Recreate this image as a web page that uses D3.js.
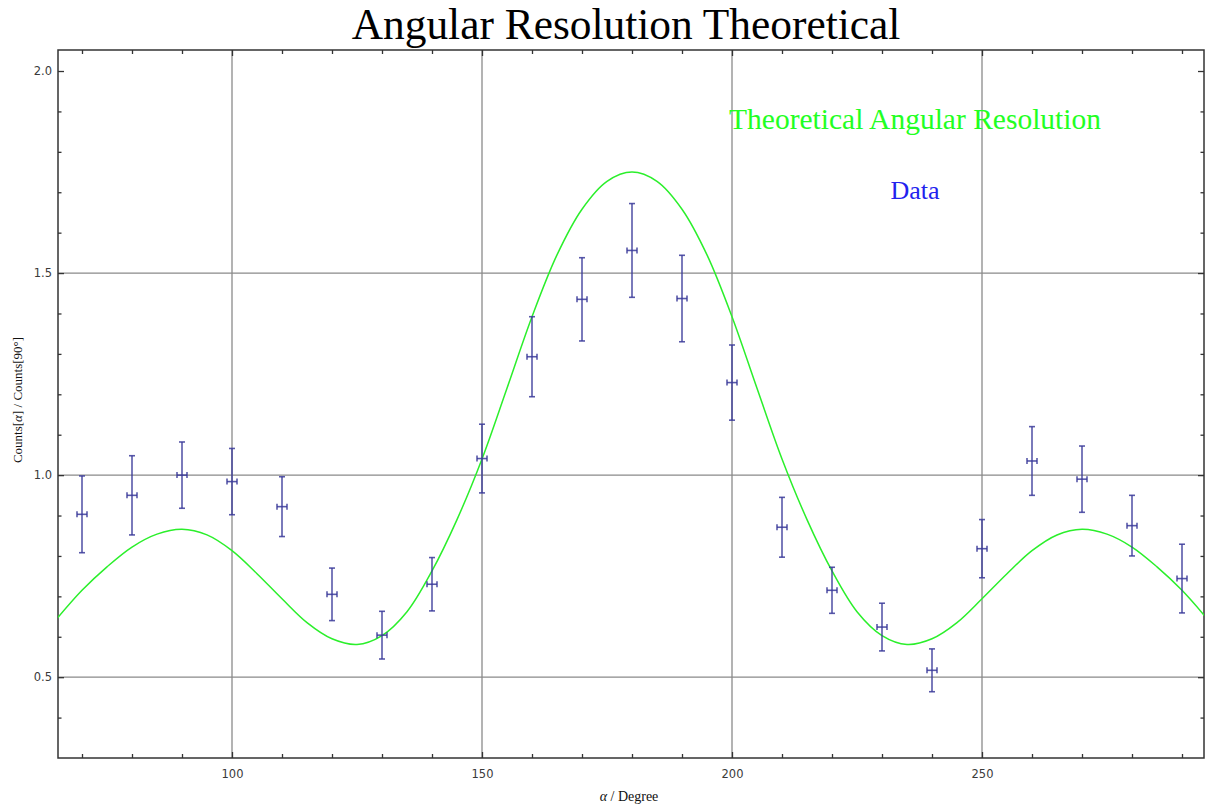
<!DOCTYPE html>
<html>
<head>
<meta charset="utf-8">
<script src="https://cdn.jsdelivr.net/npm/d3@7"></script>
<style>
  body { margin: 0; background: #fff; }
  svg { display: block; }
</style>
</head>
<body>
<div id="chart"></div>
<script>
// measured points (angle in degrees, ratio, symmetric error)
const angles = [70, 80, 90, 100, 110, 120, 130, 140, 150, 160, 170, 180, 190, 200, 210, 220, 230, 240, 250, 260, 270, 280, 290];
const ratios = [0.903, 0.950, 1.000, 0.984, 0.922, 0.705, 0.604, 0.730, 1.041, 1.293, 1.435, 1.556, 1.437, 1.229, 0.871, 0.715, 0.624, 0.517, 0.818, 1.035, 0.990, 0.875, 0.744];
const yErr = [0.095, 0.098, 0.082, 0.082, 0.074, 0.065, 0.059, 0.066, 0.085, 0.099, 0.103, 0.116, 0.107, 0.093, 0.074, 0.057, 0.059, 0.053, 0.072, 0.085, 0.082, 0.075, 0.085];
const xErr = 1;

// theoretical curve every 5 degrees
const theoryAngles = [65, 70, 75, 80, 85, 90, 95, 100, 105, 110, 115, 120, 125, 130, 135, 140, 145, 150, 155, 160, 165, 170, 175, 180,
  185, 190, 195, 200, 205, 210, 215, 220, 225, 230, 235, 240, 245, 250, 255, 260, 265, 270, 275, 280, 285, 290, 295];
const theoryValues = [0.645, 0.715, 0.773, 0.822, 0.854, 0.866, 0.852, 0.813, 0.756, 0.694, 0.635, 0.595, 0.581, 0.603, 0.662, 0.763, 0.890, 1.040, 1.215, 1.392, 1.545, 1.658, 1.727, 1.750,
  1.727, 1.658, 1.545, 1.392, 1.215, 1.040, 0.890, 0.763, 0.662, 0.603, 0.581, 0.595, 0.635, 0.694, 0.756, 0.813, 0.852, 0.866, 0.854, 0.822, 0.773, 0.715, 0.645];

const xMajor = [100, 150, 200, 250];
const xMinor = [70, 80, 90, 110, 120, 130, 140, 160, 170, 180, 190, 210, 220, 230, 240, 260, 270, 280, 290];
const yMajor = [0.5, 1.0, 1.5, 2.0];
const yMinor = [0.4, 0.6, 0.7, 0.8, 0.9, 1.1, 1.2, 1.3, 1.4, 1.6, 1.7, 1.8, 1.9];
const yGrid = [0.5, 1.0, 1.5];

const width = 1211, height = 807;
const plotLeft = 58, plotRight = 1204, plotTop = 50, plotBottom = 758;

const svg = d3.select("#chart").append("svg")
    .attr("width", width)
    .attr("height", height);

const x = d3.scaleLinear().domain([65.2, 294.4]).range([plotLeft, plotRight]);
const y = d3.scaleLinear().domain([0.3, 2.052]).range([plotBottom, plotTop]);

svg.append("clipPath").attr("id", "clip")
  .append("rect")
    .attr("x", plotLeft).attr("y", plotTop)
    .attr("width", plotRight - plotLeft).attr("height", plotBottom - plotTop);

// grid lines
svg.append("g").selectAll("line")
  .data(xMajor)
  .enter().append("line")
    .attr("x1", d => x(d)).attr("x2", d => x(d))
    .attr("y1", plotTop).attr("y2", plotBottom)
    .attr("stroke", "#8a8a8a").attr("stroke-width", 1.3);

svg.append("g").selectAll("line")
  .data(yGrid)
  .enter().append("line")
    .attr("x1", plotLeft).attr("x2", plotRight)
    .attr("y1", d => y(d)).attr("y2", d => y(d))
    .attr("stroke", "#8a8a8a").attr("stroke-width", 1.3);

// axes with inward ticks on all four sides
function styleAxis(g) {
  g.select(".domain").remove();
  g.selectAll(".tick line").attr("stroke", "#333").attr("stroke-width", 1.3);
  g.selectAll(".tick text")
    .attr("fill", "#3a3a3a")
    .style("font-family", "DejaVu Sans, sans-serif")
    .style("font-size", "11.5px");
}

svg.append("g").attr("transform", `translate(0,${plotBottom})`)
  .call(d3.axisBottom(x).tickValues(xMajor).tickSize(-6).tickPadding(12).tickFormat(d3.format("d")))
  .call(styleAxis);
svg.append("g").attr("transform", `translate(0,${plotBottom})`)
  .call(d3.axisBottom(x).tickValues(xMinor).tickSize(-4).tickFormat(""))
  .call(styleAxis);
svg.append("g").attr("transform", `translate(0,${plotTop})`)
  .call(d3.axisTop(x).tickValues(xMajor).tickSize(-6).tickFormat(""))
  .call(styleAxis);
svg.append("g").attr("transform", `translate(0,${plotTop})`)
  .call(d3.axisTop(x).tickValues(xMinor).tickSize(-4).tickFormat(""))
  .call(styleAxis);

svg.append("g").attr("transform", `translate(${plotLeft},0)`)
  .call(d3.axisLeft(y).tickValues(yMajor).tickSize(-6).tickPadding(6).tickFormat(d3.format(".1f")))
  .call(styleAxis);
svg.append("g").attr("transform", `translate(${plotLeft},0)`)
  .call(d3.axisLeft(y).tickValues(yMinor).tickSize(-3.5).tickFormat(""))
  .call(styleAxis);
svg.append("g").attr("transform", `translate(${plotRight},0)`)
  .call(d3.axisRight(y).tickValues(yMajor).tickSize(-6).tickFormat(""))
  .call(styleAxis);
svg.append("g").attr("transform", `translate(${plotRight},0)`)
  .call(d3.axisRight(y).tickValues(yMinor).tickSize(-3.5).tickFormat(""))
  .call(styleAxis);

// frame
svg.append("rect")
    .attr("x", plotLeft).attr("y", plotTop)
    .attr("width", plotRight - plotLeft).attr("height", plotBottom - plotTop)
    .attr("fill", "none")
    .attr("stroke", "#333")
    .attr("stroke-width", 1.5);

// theoretical curve
const theory = theoryAngles.map((a, i) => [a, theoryValues[i]]);
const line = d3.line()
    .x(d => x(d[0]))
    .y(d => y(d[1]))
    .curve(d3.curveCatmullRom.alpha(0.5));

svg.append("path")
    .datum(theory)
    .attr("clip-path", "url(#clip)")
    .attr("d", line)
    .attr("fill", "none")
    .attr("stroke", "#2bef2b")
    .attr("stroke-width", 1.5);

// data points with error bars
const points = angles.map((a, i) => ({ a: a, v: ratios[i], e: yErr[i] }));
const errColor = "#3b3b9a";
const pts = svg.append("g")
    .attr("stroke", errColor)
    .attr("stroke-width", 1.6)
    .attr("stroke-opacity", 0.85)
    .selectAll("g")
    .data(points)
    .enter().append("g");

pts.append("line")
    .attr("x1", d => x(d.a)).attr("x2", d => x(d.a))
    .attr("y1", d => y(d.v + d.e)).attr("y2", d => y(d.v - d.e));
pts.append("line")
    .attr("x1", d => x(d.a) - 3).attr("x2", d => x(d.a) + 3)
    .attr("y1", d => y(d.v + d.e)).attr("y2", d => y(d.v + d.e));
pts.append("line")
    .attr("x1", d => x(d.a) - 3).attr("x2", d => x(d.a) + 3)
    .attr("y1", d => y(d.v - d.e)).attr("y2", d => y(d.v - d.e));
pts.append("line")
    .attr("x1", d => x(d.a - xErr)).attr("x2", d => x(d.a + xErr))
    .attr("y1", d => y(d.v)).attr("y2", d => y(d.v));
pts.append("line")
    .attr("x1", d => x(d.a - xErr)).attr("x2", d => x(d.a - xErr))
    .attr("y1", d => y(d.v) - 3).attr("y2", d => y(d.v) + 3);
pts.append("line")
    .attr("x1", d => x(d.a + xErr)).attr("x2", d => x(d.a + xErr))
    .attr("y1", d => y(d.v) - 3).attr("y2", d => y(d.v) + 3);

// titles and labels
const serif = "Liberation Serif, Times New Roman, serif";

svg.append("text")
    .attr("x", 626).attr("y", 39)
    .attr("text-anchor", "middle")
    .style("font-family", serif)
    .style("font-size", "43.4px")
    .attr("fill", "#000")
    .text("Angular Resolution Theoretical");

svg.append("text")
    .attr("x", 915).attr("y", 129)
    .attr("text-anchor", "middle")
    .style("font-family", serif)
    .style("font-size", "29.5px")
    .attr("fill", "#22ff22")
    .text("Theoretical Angular Resolution");

svg.append("text")
    .attr("x", 915).attr("y", 199)
    .attr("text-anchor", "middle")
    .style("font-family", serif)
    .style("font-size", "26px")
    .attr("fill", "#2222ee")
    .text("Data");

const xl = svg.append("text")
    .attr("x", 629).attr("y", 801)
    .attr("text-anchor", "middle")
    .style("font-family", serif)
    .style("font-size", "14px")
    .attr("fill", "#111");
xl.append("tspan").style("font-style", "italic").text("α");
xl.append("tspan").text(" / Degree");

const yl = svg.append("text")
    .attr("transform", "translate(22,400) rotate(-90)")
    .attr("text-anchor", "middle")
    .style("font-family", serif)
    .style("font-size", "13px")
    .attr("fill", "#111");
yl.append("tspan").text("Counts[");
yl.append("tspan").style("font-style", "italic").text("α");
yl.append("tspan").text("] / Counts[90°]");
</script>
</body>
</html>
